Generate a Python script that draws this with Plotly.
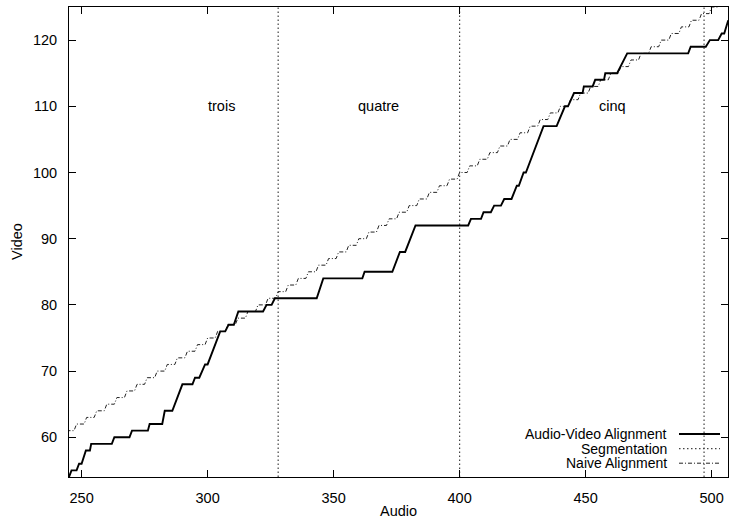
import plotly.graph_objects as go

# ---- data ----
# Audio-Video alignment path (vertices: audio frame, video frame)
av_audio = [245, 246, 248, 249, 250, 251.7, 253.3, 253.8, 262, 263, 269, 270, 276.3, 277, 282, 283, 286,
            290, 294, 295, 296.7, 299, 300, 305, 307, 308.3, 310.4, 312.2, 322, 323.4, 325.4, 326.7,
            343.3, 345.9, 361.4, 362.3, 373.3, 376.3, 378.4, 382.5, 403.4, 404.5, 408.5, 409.5, 412.4,
            413.7, 416.4, 417.7, 420.6, 422.7, 423.5, 425.4, 426.3, 433.3, 438.5, 441.8, 443, 445.4,
            448.8, 449.3, 452.8, 453.8, 457.3, 457.8, 462.5, 466.5, 490.7, 491.7, 497.7, 499.3, 502.6,
            504, 505, 506.6]
av_video = [54, 55, 55, 56, 56, 58, 58, 59, 59, 60, 60, 61, 61, 62, 62, 64, 64,
            68, 68, 69, 69, 71, 71, 76, 76, 77, 77, 79, 79, 80, 80, 81,
            81, 84, 84, 85, 85, 88, 88, 92, 92, 93, 93, 94, 94,
            95, 95, 96, 96, 98, 98, 100, 100, 107, 107, 110, 110, 112,
            112, 113, 113, 114, 114, 115, 115, 118, 118, 119, 119, 120, 120,
            121, 121, 123]

# Segment boundaries (audio frames)
seg_bounds = [328, 400, 497]

# Naive alignment staircase: audio frame where each video frame starts
naive_start = [244, 248, 252, 256, 260, 264, 268, 272, 276, 280, 284, 288, 292, 296, 300, 304,
               308, 312, 316, 320, 324, 328, 332, 336, 340, 344, 348, 352, 356, 360, 364, 368,
               372, 376, 380, 384, 388, 392, 396, 400, 404, 408, 412, 416, 420, 424, 428, 432,
               436, 440, 444, 448, 452, 456, 460, 464, 468, 472, 476, 480, 484, 488, 492, 496, 500]
naive_video = [61, 62, 63, 64, 65, 66, 67, 68, 69, 70, 71, 72, 73, 74, 75, 76,
               77, 78, 79, 80, 81, 82, 83, 84, 85, 86, 87, 88, 89, 90, 91, 92,
               93, 94, 95, 96, 97, 98, 99, 100, 101, 102, 103, 104, 105, 106, 107, 108,
               109, 110, 111, 112, 113, 114, 115, 116, 117, 118, 119, 120, 121, 122, 123, 124, 125]

# Segment labels
word_labels = ["trois", "quatre", "cinq"]
word_x = [305.5, 368, 460.5]
word_y = [110, 110, 110]

x_ticks = [250, 300, 350, 400, 450, 500]
y_ticks = [60, 70, 80, 90, 100, 110, 120]
x_range = [245, 506.5]
y_range = [54, 125]

# ---- figure ----
FONT = "Liberation Sans, Arial, Helvetica, sans-serif"
FS = 14.5

# build naive staircase vertices (flat over 3 frames, rise over the 4th)
nx, ny = [], []
for s, v in zip(naive_start, naive_video):
    nx += [s, s + 3]
    ny += [v, v]

fig = go.Figure()

SEG_LINE = dict(color="#444444", width=1.2, dash="1.5px,2.5px")
NAIVE_LINE = dict(color="#222222", width=1, dash="4px,2px,1px,2px")
AV_LINE = dict(color="black", width=1.9)

for b in seg_bounds:
    fig.add_trace(go.Scatter(x=[b, b], y=y_range, mode="lines", line=SEG_LINE,
                             showlegend=False, hoverinfo="skip"))

fig.add_trace(go.Scatter(x=nx, y=ny, mode="lines", line=NAIVE_LINE,
                         showlegend=False, hoverinfo="skip"))

fig.add_trace(go.Scatter(x=av_audio, y=av_video, mode="lines", line=AV_LINE,
                         showlegend=False, hoverinfo="skip"))

ann = []
for t, x, y in zip(word_labels, word_x, word_y):
    ann.append(dict(x=x, y=y, xref="x", yref="y", text=t, showarrow=False,
                    font=dict(family=FONT, size=FS, color="black")))

# custom gnuplot-style legend (text, then sample to its right)
W, H, L, T = 729, 523, 69, 7
PW, PH = 659, 470
def px2paper(px, py):
    return (px - L) / PW, (T + PH - py) / PH

leg = [("Audio-Video Alignment", AV_LINE),
       ("Segmentation", SEG_LINE),
       ("Naive Alignment", NAIVE_LINE)]
shapes = []
for i, (txt, ln) in enumerate(leg):
    py = 434 + i * 14.6
    tx, ty = px2paper(669, py)
    ann.append(dict(x=tx, y=ty, xref="paper", yref="paper", text=txt, showarrow=False,
                    xanchor="right", yanchor="middle",
                    font=dict(family=FONT, size=14, color="black")))
    x0, y0 = px2paper(679, py)
    x1, _ = px2paper(720, py)
    shapes.append(dict(type="line", xref="paper", yref="paper", x0=x0, x1=x1, y0=y0, y1=y0,
                       line=ln))

# axis titles
ax, ay = px2paper(398, 511)
ann.append(dict(x=ax, y=ay, xref="paper", yref="paper", text="Audio", showarrow=False,
                yanchor="middle", font=dict(family=FONT, size=FS, color="black")))
vx, vy = px2paper(17, 242)
ann.append(dict(x=vx, y=vy, xref="paper", yref="paper", text="Video", showarrow=False,
                textangle=-90, xanchor="center", yanchor="middle",
                font=dict(family=FONT, size=FS, color="black")))

axis_common = dict(showgrid=False, zeroline=False, showline=True, linecolor="black",
                   linewidth=1, mirror="ticks", ticks="inside", ticklen=7, tickwidth=1,
                   tickcolor="black", tickfont=dict(family=FONT, size=FS, color="black"))

fig.update_layout(
    width=W, height=H,
    margin=dict(l=L, r=W - L - PW, t=T, b=H - T - PH),
    paper_bgcolor="white", plot_bgcolor="white",
    xaxis=dict(range=x_range, tickvals=x_ticks, ticklabelstandoff=8, **axis_common),
    yaxis=dict(range=y_range, tickvals=y_ticks, ticklabelstandoff=8, **axis_common),
    annotations=ann, shapes=shapes, showlegend=False,
)

fig.write_html("out.html", config={"displayModeBar": False},
               post_script="document.body.style.margin='0px';document.body.style.overflow='hidden';")
